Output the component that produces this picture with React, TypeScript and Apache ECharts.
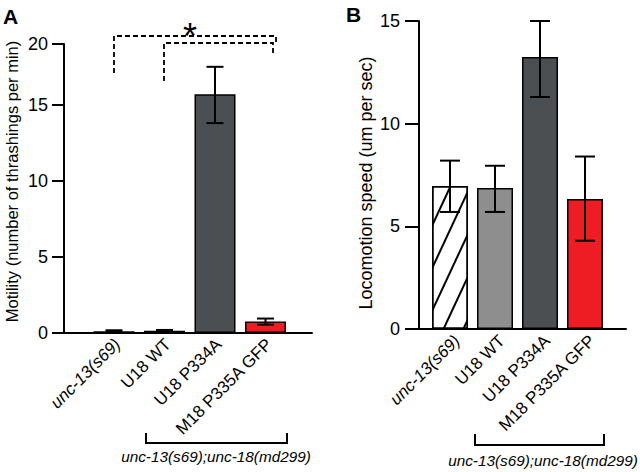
import React, { useEffect, useRef } from "react";
import * as echarts from "echarts";

// ---- data ----
const categories = ["unc-13(s69)", "U18 WT", "U18 P334A", "M18 P335A GFP"];

// Panel A: motility (thrashings per min)
const motilityMean = [0.12, 0.14, 15.7, 0.75];
const motilityLow = [0.06, 0.08, 13.8, 0.55];
const motilityHigh = [0.18, 0.2, 17.5, 0.95];
const motilityAxisMax = 19;
const motilityAxisMaxLabel = "20";

// Panel B: locomotion speed (um per sec)
const speedMean = [6.97, 6.87, 13.25, 6.33];
const speedLow = [5.7, 5.7, 11.3, 4.3];
const speedHigh = [8.2, 7.95, 15.0, 8.4];
const speedAxisMax = 15;

const colorsA = ["#c8242a", "#c8242a", "#4b4f51", "#ee1d24"];
const colorsB = ["#ffffff", "#8e8e8e", "#4b4f51", "#ee1d24"];

const groupLabel = "unc-13(s69);unc-18(md299)";
const FONT = "'Liberation Sans', Arial, Helvetica, sans-serif";

function errorSeries(xi: number, low: number[], high: number[], cap: number) {
  return {
    type: "custom",
    xAxisIndex: xi,
    yAxisIndex: xi,
    z: 5,
    encode: { x: 0, y: [1, 2] },
    data: low.map((l, i) => [i, l, high[i]]),
    renderItem: (params: any, api: any) => {
      const x = api.value(0);
      const pLo = api.coord([x, api.value(1)]);
      const pHi = api.coord([x, api.value(2)]);
      const h = cap / 2;
      const st = { stroke: "#000", lineWidth: 2 };
      return {
        type: "group",
        children: [
          { type: "line", shape: { x1: pLo[0], y1: pLo[1], x2: pHi[0], y2: pHi[1] }, style: st },
          { type: "line", shape: { x1: pHi[0] - h, y1: pHi[1], x2: pHi[0] + h, y2: pHi[1] }, style: st },
          { type: "line", shape: { x1: pLo[0] - h, y1: pLo[1], x2: pLo[0] + h, y2: pLo[1] }, style: st },
        ],
      };
    },
  };
}

const catAxis = (gi: number, padTop: number, margin: number) => ({
  type: "category",
  gridIndex: gi,
  data: categories,
  axisLine: { show: false },
  axisTick: { show: false },
  axisLabel: {
    rotate: 45,
    margin,
    padding: [padTop, 0, 0, 0],
    fontSize: 17,
    color: "#000",
    fontFamily: FONT,
    interval: 0,
    formatter: (v: string, i: number) => (i === 0 ? `{it|${v}}` : v),
    rich: { it: { fontStyle: "italic", fontSize: 17, fontFamily: FONT, color: "#000" } },
  },
});

const baseAxis = (gi: number) => ({
  type: "value",
  gridIndex: gi,
  min: 0,
  max: 1,
  axisLine: { show: true, onZero: false, lineStyle: { color: "#000", width: 2 } },
  axisTick: { show: false },
  axisLabel: { show: false },
  splitLine: { show: false },
});

const hiddenY = (gi: number) => ({
  type: "value",
  gridIndex: gi,
  min: 0,
  max: 1,
  show: false,
});

const dashed = { stroke: "#000", lineWidth: 1.8, lineDash: [5, 3], fill: "none" };
const solid = { stroke: "#000", lineWidth: 2, fill: "none" };

export default function App() {
  const ref = useRef<HTMLDivElement>(null);
  useEffect(() => {
    if (!ref.current) return;
    const chart = echarts.init(ref.current, null, { renderer: "svg" });
    chart.setOption({
      animation: false,
      backgroundColor: "#fff",
      textStyle: { fontFamily: FONT },
      grid: [
        { left: 88.75, width: 202, top: 44, bottom: 139 },
        { left: 427.5, width: 180, top: 21, bottom: 143 },
        { left: 64, width: 248, bottom: 139, height: 20 },
        { left: 419, width: 207, bottom: 143, height: 20 },
      ],
      xAxis: [catAxis(0, 10, 5), catAxis(1, 20, 2), baseAxis(2), baseAxis(3)],
      yAxis: [
        {
          type: "value",
          gridIndex: 0,
          min: 0,
          max: motilityAxisMax,
          interval: 5,
          offset: 24.75,
          axisLine: { show: true, lineStyle: { color: "#000", width: 2 } },
          axisTick: { show: true, length: 12, lineStyle: { color: "#000", width: 2 } },
          axisLabel: {
            fontSize: 18,
            color: "#000",
            margin: 16,
            fontFamily: FONT,
            formatter: (v: number) => (v === motilityAxisMax ? motilityAxisMaxLabel : String(v)),
          },
          splitLine: { show: false },
          name: "Motility (number of thrashings per min)",
          nameLocation: "middle",
          nameGap: 44,
          nameTextStyle: { fontSize: 16.5, color: "#000", fontFamily: FONT, padding: [0, 0, 0, 14] },
        },
        {
          type: "value",
          gridIndex: 1,
          min: 0,
          max: speedAxisMax,
          interval: 5,
          offset: 8.5,
          axisLine: { show: true, lineStyle: { color: "#000", width: 2 } },
          axisTick: { show: true, length: 14, lineStyle: { color: "#000", width: 2 } },
          axisLabel: { fontSize: 18, color: "#000", margin: 19, fontFamily: FONT },
          splitLine: { show: false },
          name: "Locomotion speed (um per sec)",
          nameLocation: "middle",
          nameGap: 44,
          nameTextStyle: { fontSize: 18, color: "#000", fontFamily: FONT, padding: [0, 16, 0, 0] },
        },
        hiddenY(2),
        hiddenY(3),
      ],
      series: [
        {
          type: "bar",
          xAxisIndex: 0,
          yAxisIndex: 0,
          barWidth: 41,
          data: motilityMean.map((v, i) => ({
            value: v,
            itemStyle: { color: colorsA[i], borderColor: "#000", borderWidth: 1.5 },
          })),
        },
        errorSeries(0, motilityLow, motilityHigh, 17),
        {
          type: "bar",
          xAxisIndex: 1,
          yAxisIndex: 1,
          barWidth: 36,
          data: speedMean.map((v, i) => ({
            value: v,
            itemStyle: {
              color: colorsB[i],
              borderColor: "#000",
              borderWidth: 1.5,
              decal:
                i === 0
                  ? {
                      symbol: "rect",
                      color: "#000",
                      dashArrayX: [1, 0],
                      dashArrayY: [2, 16],
                      rotation: (-65 * Math.PI) / 180,
                    }
                  : "none",
            },
          })),
        },
        errorSeries(1, speedLow, speedHigh, 20),
      ],
      graphic: [
        { type: "text", left: 3, top: 6, style: { text: "A", fontSize: 21, fontWeight: "bold", fill: "#000", fontFamily: FONT } },
        { type: "text", left: 346, top: 4, style: { text: "B", fontSize: 21, fontWeight: "bold", fill: "#000", fontFamily: FONT } },
        // significance brackets
        { type: "polyline", shape: { points: [[114, 73], [114, 36], [276, 36], [276, 45]] }, style: dashed },
        { type: "polyline", shape: { points: [[164, 81], [164, 43], [273, 43], [273, 53]] }, style: dashed },
        { type: "text", x: 190, y: 36, style: { text: "*", fontSize: 36, fill: "#000", fontFamily: FONT, align: "center", verticalAlign: "middle" } },
        // group brackets
        { type: "polyline", shape: { points: [[146, 433], [146, 443], [287, 443], [287, 433]] }, style: solid },
        { type: "text", x: 216, y: 456, style: { text: groupLabel, fontSize: 15.3, fontStyle: "italic", fill: "#000", fontFamily: FONT, align: "center", verticalAlign: "middle" } },
        { type: "polyline", shape: { points: [[475, 434], [475, 445], [604, 445], [604, 434]] }, style: solid },
        { type: "text", x: 543, y: 460, style: { text: groupLabel, fontSize: 15.3, fontStyle: "italic", fill: "#000", fontFamily: FONT, align: "center", verticalAlign: "middle" } },
      ],
    });
    return () => chart.dispose();
  }, []);
  return (
    <div
      ref={ref}
      style={{ position: "fixed", left: 0, top: 0, width: 640, height: 472, background: "#fff" }}
    />
  );
}
